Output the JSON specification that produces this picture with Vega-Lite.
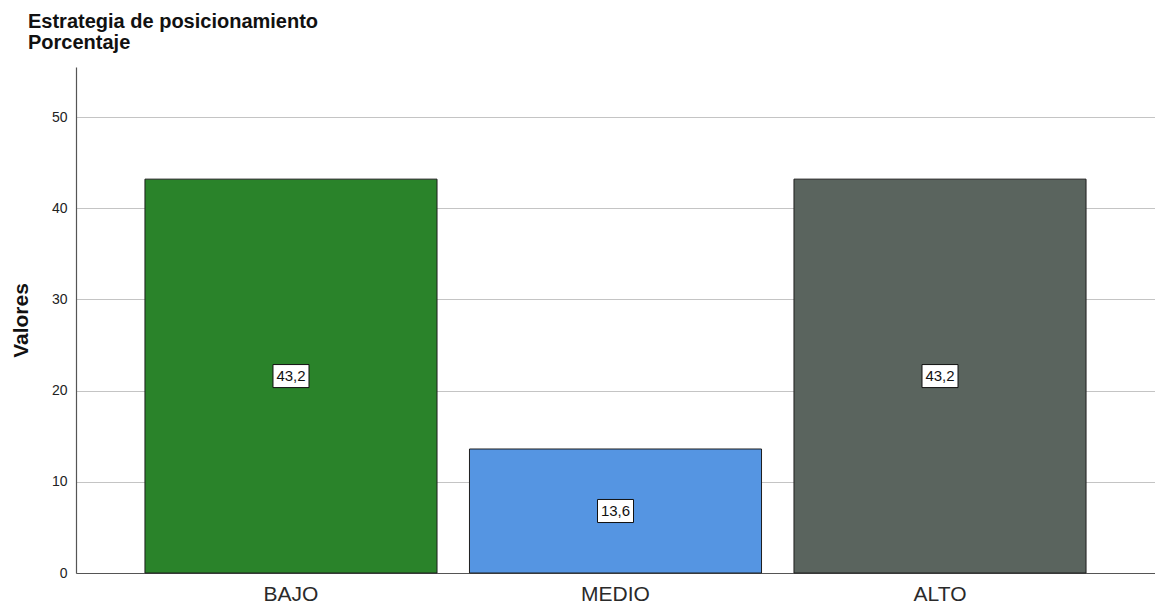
{
  "$schema": "https://vega.github.io/schema/vega-lite/v6.json",
  "autosize": {"type": "none"},
  "width": 1079,
  "height": 506,
  "padding": {"left": 76, "top": 67, "right": 0, "bottom": 35},
  "background": "white",
  "title": {
    "text": ["Estrategia de posicionamiento", "Porcentaje"],
    "anchor": "start",
    "frame": "group",
    "dx": -48,
    "offset": 14,
    "font": "Liberation Sans",
    "fontSize": 20,
    "fontWeight": "bold",
    "lineHeight": 21,
    "color": "#111111"
  },
  "data": {
    "values": [
      {"categoria": "BAJO", "valor": 43.2, "etiqueta": "43,2"},
      {"categoria": "MEDIO", "valor": 13.6, "etiqueta": "13,6"},
      {"categoria": "ALTO", "valor": 43.2, "etiqueta": "43,2"}
    ]
  },
  "config": {
    "view": {"stroke": null},
    "font": "Liberation Sans"
  },
  "layer": [
    {
      "mark": {"type": "bar", "stroke": "#1e1e1e", "strokeWidth": 1},
      "encoding": {
        "x": {
          "field": "categoria",
          "type": "nominal",
          "sort": ["BAJO", "MEDIO", "ALTO"],
          "scale": {"paddingInner": 0.1, "paddingOuter": 0.2125},
          "axis": {
            "title": null,
            "labelAngle": 0,
            "labelFont": "Liberation Sans",
            "labelFontSize": 21,
            "labelColor": "#2a2a2a",
            "labelPadding": 10,
            "ticks": false,
            "domainColor": "#555555",
            "domainWidth": 1.2,
            "grid": false
          }
        },
        "y": {
          "field": "valor",
          "type": "quantitative",
          "scale": {"domain": [0, 55.5], "nice": false},
          "axis": {
            "title": "Valores",
            "titleFont": "Liberation Sans",
            "titleFontSize": 21,
            "titleFontWeight": "bold",
            "titleColor": "#111111",
            "titlePadding": 20,
            "values": [0, 10, 20, 30, 40, 50],
            "labelFont": "Liberation Sans",
            "labelFontSize": 14,
            "labelColor": "#222222",
            "labelPadding": 9,
            "ticks": false,
            "domainColor": "#555555",
            "domainWidth": 1.2,
            "grid": true,
            "gridColor": "#c4c4c4",
            "gridWidth": 1.2
          }
        },
        "color": {
          "field": "categoria",
          "type": "nominal",
          "scale": {"domain": ["BAJO", "MEDIO", "ALTO"], "range": ["#2a832a", "#5595e2", "#5a645e"]},
          "legend": null
        }
      }
    },
    {
      "mark": {
        "type": "point",
        "shape": "M-1,-0.64H1V0.64H-1Z",
        "size": 1296,
        "filled": true,
        "fill": "white",
        "stroke": "#111111",
        "strokeWidth": 1,
        "opacity": 1
      },
      "encoding": {
        "x": {"field": "categoria", "type": "nominal", "sort": ["BAJO", "MEDIO", "ALTO"]},
        "y": {"field": "valor", "type": "quantitative", "scale": {"domain": [0, 111], "nice": false}, "axis": null}
      }
    },
    {
      "mark": {"type": "text", "font": "Liberation Sans", "fontSize": 15, "color": "#111111", "baseline": "middle", "align": "center"},
      "encoding": {
        "x": {"field": "categoria", "type": "nominal", "sort": ["BAJO", "MEDIO", "ALTO"]},
        "y": {"field": "valor", "type": "quantitative", "scale": {"domain": [0, 111], "nice": false}, "axis": null},
        "text": {"field": "etiqueta"}
      }
    }
  ],
  "resolve": {"scale": {"y": "independent", "color": "independent"}}
}
